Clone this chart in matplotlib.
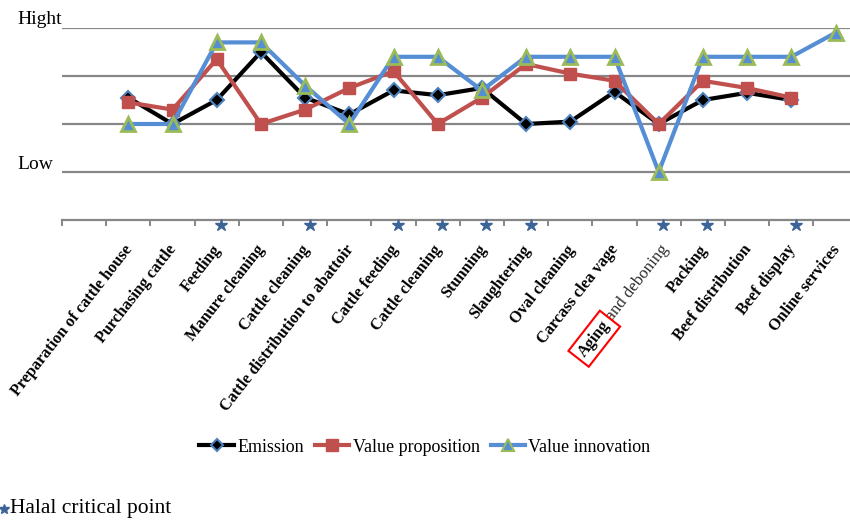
import numpy as np
import matplotlib.pyplot as plt
import matplotlib.transforms as mtransforms
from matplotlib.lines import Line2D

# Beef supply chain steps and scores per indicator
steps = ['Preparation of cattle house', 'Purchasing cattle', 'Feeding', 'Manure cleaning',
         'Cattle cleaning', 'Cattle distribution to abattoir', 'Cattle feeding', 'Cattle cleaning',
         'Stunning', 'Slaughtering', 'Oval cleaning', 'Carcass clea vage', 'Aging and deboning',
         'Packing', 'Beef distribution', 'Beef display', 'Online services']

emission = [2.55, 2.0, 2.5, 3.5, 2.55, 2.2, 2.7, 2.6, 2.75, 2.0, 2.05, 2.67, 2.0,
            2.5, 2.65, 2.5, np.nan]
value_proposition = [2.45, 2.3, 3.35, 2.0, 2.3, 2.75, 3.1, 2.0, 2.55, 3.25, 3.05, 2.9, 2.0,
                     2.9, 2.75, 2.55, np.nan]
value_innovation = [2.0, 2.0, 3.7, 3.7, 2.8, 2.0, 3.4, 3.4, 2.7, 3.4, 3.4, 3.4, 1.0,
                    3.4, 3.4, 3.4, 3.9]

# steps that are halal critical points (by position in the chain)
halal_idx = [2, 4, 6, 7, 8, 9, 12, 13, 15]

serif = 'Liberation Serif'
grey = '#878787'

fig = plt.figure(figsize=(8.5, 5.21), dpi=100)
ax = fig.add_axes([62 / 850, 1 - 220 / 521, 795.6 / 850, 192 / 521])

x = np.arange(len(steps))

for y in [1, 2, 3, 4]:
    ax.axhline(y, color=grey, lw=1.6, zorder=1)

ax.plot(x, emission, color='black', lw=3, marker='D', ms=7, mfc='black',
        mec='#4F81BD', mew=1.5, zorder=3, clip_on=False, label='Emission')
ax.plot(x, value_proposition, color='#C0504D', lw=3, marker='s', ms=9,
        zorder=4, clip_on=False, label='Value proposition')
ax.plot(x, value_innovation, color='#558ED5', lw=3, marker='^', ms=10, mfc='#558ED5',
        mec='#9BBB59', mew=2, zorder=5, clip_on=False, label='Value innovation')

ax.set_xlim(-1.5, 16.5)
ax.set_ylim(0, 4)
for s in ['top', 'right', 'left']:
    ax.spines[s].set_visible(False)
ax.spines['bottom'].set_color(grey)
ax.spines['bottom'].set_linewidth(1.6)
ax.set_yticks([])
ax.set_xticks(np.arange(-1.5, 17, 1))
ax.set_xticklabels([])
ax.tick_params(axis='x', direction='out', length=4.5, width=1.4, color=grey)

# halal critical point stars under the axis
hx = np.array(halal_idx) + 0.1
ax.plot(hx, [-0.11] * len(hx), ls='none', marker='*', ms=9, color='#3C6496',
        clip_on=False, zorder=6)

# rotated step labels
dx, dy = -5, -22
fs = 11.7
lab_tr = mtransforms.offset_copy(ax.transData, fig=fig, x=dx, y=dy, units='dots')
rot = 52
for i, name in enumerate(steps):
    if name.startswith('Aging'):
        continue
    ax.text(i, 0, name, transform=lab_tr, rotation=rot, rotation_mode='anchor',
            ha='right', va='top', family=serif, fontweight='bold', fontsize=fs)

# the aging step: plain tail with a boxed bold head
ai = steps.index('Aging and deboning')
tail_txt = ' and deboning'
ax.text(ai, 0, tail_txt, transform=mtransforms.offset_copy(
    ax.transData, fig=fig, x=dx + 6, y=dy, units='dots'), rotation=rot,
    rotation_mode='anchor', ha='right', va='top', family=serif, fontsize=12.2, color='#2b2b2b')
fig.canvas.draw()
tmp = ax.text(0, 0, tail_txt, family=serif, fontsize=12.2)
w = tmp.get_window_extent(fig.canvas.get_renderer()).width
tmp.remove()
th = np.deg2rad(rot)
ax.text(ai, 0, 'Aging', transform=mtransforms.offset_copy(
    ax.transData, fig=fig, x=dx + 6 - w * np.cos(th), y=dy - w * np.sin(th), units='dots'),
    rotation=rot, rotation_mode='anchor', ha='right', va='top', family=serif,
    fontweight='bold', fontsize=fs,
    bbox=dict(boxstyle='square,pad=0.3', fc='none', ec='red', lw=1.5))

ax.annotate('Hight', xy=(-1.5, 4), xytext=(-45, 4), textcoords='offset pixels',
            ha='left', va='baseline', family=serif, fontsize=14)
ax.annotate('Low', xy=(-1.5, 1), xytext=(-45, 3), textcoords='offset pixels',
            ha='left', va='baseline', family=serif, fontsize=14)

handles = [
    Line2D([], [], color='black', lw=3, marker='D', ms=6, mfc='black', mec='#4F81BD', mew=1.5),
    Line2D([], [], color='#C0504D', lw=3, marker='s', ms=8),
    Line2D([], [], color='#558ED5', lw=3, marker='^', ms=8, mfc='#558ED5', mec='#9BBB59', mew=1.5),
]
fig.legend(handles, ['Emission', 'Value proposition', 'Value innovation'], loc='center',
           bbox_to_anchor=(0.5, 1 - 447 / 521), ncol=3, frameon=False,
           prop={'family': serif, 'size': 13}, handlelength=1.9, handletextpad=0.2,
           columnspacing=0.6)

fig.add_artist(Line2D([4 / 850], [1 - 509 / 521], ls='none', marker='*', ms=7,
                      color='#3C6496', transform=fig.transFigure))
fig.text(10 / 850, 1 - 508 / 521, 'Halal critical point', family=serif, fontsize=15.5,
         va='center', ha='left')

fig.savefig('out.png', dpi=100)
